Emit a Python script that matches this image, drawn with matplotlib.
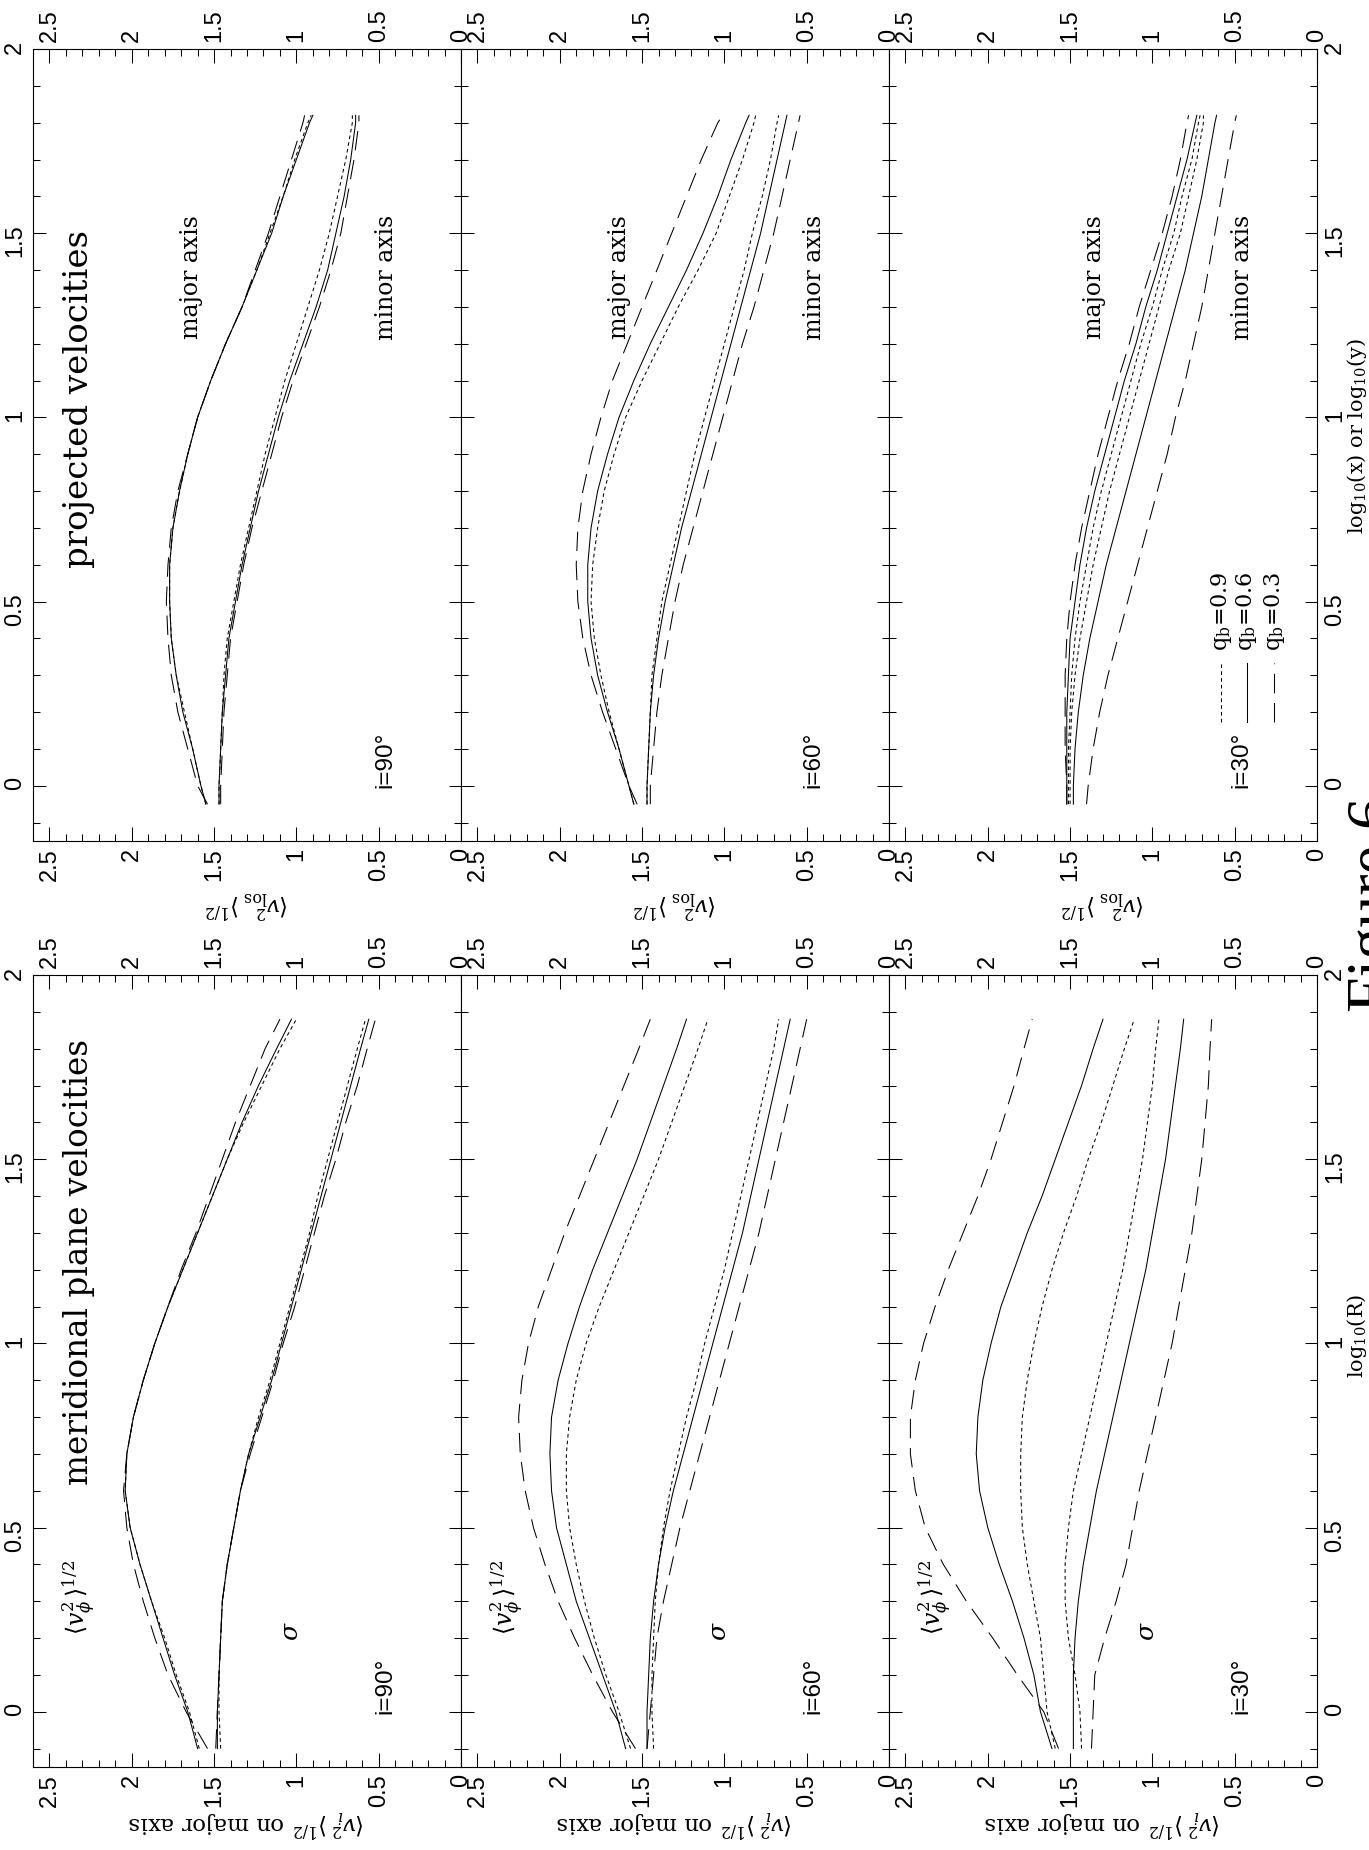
import matplotlib
matplotlib.use("Agg")
import matplotlib.pyplot as plt
from matplotlib.ticker import MultipleLocator, FuncFormatter

plt.rcParams['font.family'] = ['Liberation Sans', 'DejaVu Sans']
plt.rcParams['mathtext.fontset'] = 'dejavuserif'
plt.rcParams['lines.scale_dashes'] = False

# ---------------- data ----------------
logR_mer = [-0.1, 0.0, 0.1, 0.2, 0.3, 0.4, 0.5, 0.6, 0.7, 0.8, 0.9, 1.0,
            1.1, 1.2, 1.3, 1.4, 1.5, 1.6, 1.7, 1.8, 1.88]
logR_proj = [-0.05, 0.0, 0.1, 0.2, 0.3, 0.4, 0.5, 0.6, 0.7, 0.8, 0.9, 1.0,
             1.1, 1.2, 1.3, 1.4, 1.5, 1.6, 1.7, 1.8, 1.82]

# meridional plane, i=90
mer90_phi_q09 = [1.59,1.65,1.73,1.80,1.88,1.95,2.01,2.04,2.03,1.99,1.93,1.86,1.78,1.69,1.60,1.51,1.42,1.32,1.21,1.10,1.00]
mer90_phi_q06 = [1.60,1.66,1.74,1.81,1.88,1.95,2.01,2.04,2.03,1.99,1.93,1.86,1.78,1.69,1.60,1.51,1.42,1.33,1.23,1.12,1.03]
mer90_phi_q03 = [1.54,1.67,1.78,1.86,1.93,1.99,2.03,2.05,2.03,1.99,1.93,1.86,1.78,1.70,1.61,1.53,1.45,1.37,1.28,1.19,1.10]
mer90_sig_q09 = [1.46,1.47,1.47,1.46,1.45,1.42,1.38,1.34,1.29,1.23,1.16,1.10,1.04,0.98,0.92,0.87,0.81,0.75,0.69,0.63,0.58]
mer90_sig_q06 = [1.48,1.48,1.47,1.46,1.45,1.42,1.38,1.34,1.29,1.22,1.15,1.09,1.03,0.97,0.91,0.85,0.79,0.73,0.67,0.61,0.56]
mer90_sig_q03 = [1.49,1.48,1.47,1.46,1.45,1.42,1.38,1.34,1.28,1.21,1.14,1.08,1.01,0.95,0.89,0.83,0.76,0.70,0.63,0.57,0.52]

# meridional plane, i=60
mer60_phi_q09 = [1.57,1.64,1.72,1.79,1.85,1.90,1.94,1.96,1.96,1.94,1.90,1.84,1.76,1.67,1.58,1.49,1.40,1.32,1.24,1.16,1.10]
mer60_phi_q06 = [1.60,1.66,1.74,1.82,1.90,1.96,2.02,2.05,2.06,2.05,2.01,1.95,1.88,1.80,1.71,1.62,1.53,1.45,1.37,1.29,1.23]
mer60_phi_q03 = [1.54,1.68,1.80,1.91,2.01,2.09,2.16,2.21,2.24,2.25,2.23,2.19,2.13,2.05,1.97,1.88,1.79,1.70,1.61,1.52,1.45]
mer60_sig_q09 = [1.43,1.44,1.44,1.43,1.42,1.40,1.37,1.33,1.28,1.23,1.17,1.12,1.06,1.00,0.95,0.90,0.85,0.80,0.75,0.70,0.67]
mer60_sig_q06 = [1.47,1.47,1.46,1.45,1.43,1.40,1.36,1.31,1.25,1.19,1.13,1.07,1.01,0.95,0.89,0.84,0.79,0.74,0.69,0.64,0.60]
mer60_sig_q03 = [1.47,1.45,1.43,1.41,1.37,1.32,1.27,1.21,1.15,1.09,1.03,0.97,0.91,0.85,0.79,0.74,0.69,0.64,0.59,0.54,0.50]

# meridional plane, i=30
mer30_phi_q09 = [1.59,1.64,1.66,1.68,1.72,1.76,1.79,1.80,1.80,1.79,1.76,1.72,1.67,1.61,1.54,1.46,1.39,1.31,1.24,1.17,1.11]
mer30_phi_q06 = [1.61,1.68,1.72,1.78,1.85,1.93,2.00,2.05,2.07,2.06,2.03,1.98,1.92,1.84,1.76,1.67,1.59,1.51,1.43,1.36,1.30]
mer30_phi_q03 = [1.57,1.66,1.82,1.97,2.13,2.27,2.38,2.44,2.47,2.47,2.44,2.39,2.32,2.24,2.15,2.06,1.98,1.91,1.84,1.78,1.73]
mer30_sig_q09 = [1.43,1.44,1.47,1.51,1.53,1.53,1.51,1.48,1.43,1.38,1.33,1.28,1.23,1.18,1.14,1.10,1.06,1.03,1.00,0.98,0.96]
mer30_sig_q06 = [1.48,1.48,1.48,1.47,1.45,1.42,1.38,1.34,1.29,1.24,1.19,1.14,1.09,1.04,1.00,0.96,0.92,0.89,0.86,0.83,0.81]
mer30_sig_q03 = [1.37,1.36,1.35,1.29,1.22,1.16,1.12,1.08,1.03,0.98,0.93,0.88,0.84,0.80,0.76,0.73,0.70,0.68,0.66,0.65,0.64]

# projected, i=90
proj90_maj_q09 = [1.55,1.58,1.63,1.68,1.73,1.76,1.77,1.77,1.75,1.71,1.66,1.60,1.52,1.43,1.33,1.24,1.16,1.08,1.01,0.93,0.91]
proj90_maj_q06 = [1.55,1.58,1.63,1.69,1.73,1.76,1.77,1.77,1.75,1.71,1.66,1.60,1.52,1.43,1.33,1.24,1.15,1.08,1.00,0.92,0.90]
proj90_maj_q03 = [1.54,1.60,1.66,1.72,1.76,1.78,1.79,1.78,1.76,1.72,1.66,1.60,1.52,1.43,1.33,1.25,1.17,1.10,1.03,0.96,0.95]
proj90_min_q09 = [1.47,1.47,1.46,1.45,1.44,1.42,1.38,1.34,1.29,1.24,1.19,1.13,1.07,1.00,0.93,0.86,0.80,0.75,0.70,0.66,0.66]
proj90_min_q06 = [1.47,1.47,1.46,1.45,1.43,1.41,1.37,1.33,1.28,1.23,1.17,1.11,1.04,0.96,0.88,0.81,0.76,0.71,0.67,0.64,0.64]
proj90_min_q03 = [1.46,1.46,1.45,1.44,1.42,1.40,1.36,1.32,1.27,1.21,1.15,1.09,1.02,0.94,0.86,0.79,0.73,0.69,0.65,0.62,0.62]

# projected, i=60
proj60_maj_q09 = [1.55,1.58,1.64,1.70,1.75,1.79,1.81,1.80,1.77,1.73,1.67,1.60,1.50,1.39,1.28,1.16,1.05,0.97,0.89,0.82,0.81]
proj60_maj_q06 = [1.55,1.58,1.64,1.71,1.77,1.81,1.83,1.83,1.81,1.77,1.71,1.64,1.55,1.45,1.34,1.23,1.13,1.04,0.96,0.87,0.85]
proj60_maj_q03 = [1.53,1.58,1.66,1.74,1.81,1.86,1.89,1.90,1.89,1.86,1.81,1.75,1.68,1.59,1.50,1.41,1.32,1.23,1.14,1.04,1.01]
proj60_min_q09 = [1.47,1.47,1.46,1.45,1.44,1.41,1.38,1.33,1.28,1.23,1.18,1.12,1.06,1.00,0.94,0.88,0.83,0.77,0.72,0.68,0.67]
proj60_min_q06 = [1.47,1.47,1.46,1.45,1.43,1.40,1.36,1.31,1.26,1.20,1.14,1.08,1.02,0.96,0.90,0.84,0.78,0.73,0.68,0.63,0.62]
proj60_min_q03 = [1.45,1.45,1.43,1.41,1.38,1.34,1.30,1.25,1.19,1.13,1.07,1.01,0.95,0.89,0.82,0.76,0.70,0.65,0.60,0.55,0.54]

# projected, i=30
proj30_maj_q09 = [1.51,1.51,1.51,1.50,1.49,1.47,1.44,1.40,1.36,1.31,1.25,1.19,1.13,1.07,1.00,0.94,0.87,0.82,0.76,0.72,0.71]
proj30_maj_q06 = [1.52,1.52,1.52,1.52,1.51,1.50,1.47,1.44,1.40,1.35,1.29,1.23,1.17,1.10,1.04,0.97,0.91,0.85,0.79,0.74,0.73]
proj30_maj_q03 = [1.52,1.52,1.53,1.53,1.53,1.52,1.50,1.47,1.43,1.38,1.33,1.27,1.21,1.14,1.08,1.01,0.94,0.88,0.83,0.79,0.78]
proj30_min_q09 = [1.50,1.50,1.50,1.49,1.47,1.44,1.40,1.36,1.31,1.26,1.20,1.14,1.08,1.02,0.96,0.90,0.83,0.78,0.73,0.69,0.69]
proj30_min_q06 = [1.48,1.48,1.47,1.45,1.42,1.38,1.33,1.28,1.22,1.16,1.10,1.04,0.98,0.92,0.86,0.80,0.75,0.70,0.66,0.62,0.61]
proj30_min_q03 = [1.40,1.39,1.36,1.32,1.27,1.21,1.15,1.09,1.03,0.97,0.91,0.86,0.80,0.75,0.70,0.66,0.62,0.58,0.54,0.50,0.49]

incl_labels = ['i=90°', 'i=60°', 'i=30°']
qb_labels = ['q$_{\\rm b}$=0.9', 'q$_{\\rm b}$=0.6', 'q$_{\\rm b}$=0.3']

mer_panels = [
    [mer90_phi_q09, mer90_phi_q06, mer90_phi_q03, mer90_sig_q09, mer90_sig_q06, mer90_sig_q03],
    [mer60_phi_q09, mer60_phi_q06, mer60_phi_q03, mer60_sig_q09, mer60_sig_q06, mer60_sig_q03],
    [mer30_phi_q09, mer30_phi_q06, mer30_phi_q03, mer30_sig_q09, mer30_sig_q06, mer30_sig_q03],
]
proj_panels = [
    [proj90_maj_q09, proj90_maj_q06, proj90_maj_q03, proj90_min_q09, proj90_min_q06, proj90_min_q03],
    [proj60_maj_q09, proj60_maj_q06, proj60_maj_q03, proj60_min_q09, proj60_min_q06, proj60_min_q03],
    [proj30_maj_q09, proj30_maj_q06, proj30_maj_q03, proj30_min_q09, proj30_min_q06, proj30_min_q03],
]

# ---------------- styling ----------------
STYLES = [(0, (2.6, 2.3)), '-', (0, (14, 7))]   # q=0.9 dotted, 0.6 solid, 0.3 dashed
LW = 0.75
SERIF = 'DejaVu Serif'

W, H = 1369, 1850
fig = plt.figure(figsize=(W / 100, H / 100), dpi=100)

COL_X = [33, 461, 889]
ROW_Y = [49, 975]
PW, PH = 428, 792
fmt = FuncFormatter(lambda v, p: f'{v:g}')


def make_ax(ci, ri):
    x0, y0 = COL_X[ci], ROW_Y[ri]
    ax = fig.add_axes([x0 / W, 1 - (y0 + PH) / H, PW / W, PH / H])
    ax.set_xlim(2.6, 0)
    ax.set_ylim(-0.15, 2.0)
    for a in (ax.xaxis, ax.yaxis):
        a.set_major_locator(MultipleLocator(0.5))
        a.set_minor_locator(MultipleLocator(0.1))
        a.set_major_formatter(fmt)
    for s in ax.spines.values():
        s.set_linewidth(0.8)
    ax.tick_params(which='both', direction='in', top=True, bottom=True,
                   left=True, right=True, width=0.75)
    ax.tick_params(axis='x', which='major', length=10)
    ax.tick_params(axis='x', which='minor', length=5)
    ax.tick_params(axis='y', which='major', length=9)
    ax.tick_params(axis='y', which='minor', length=5)
    ax.tick_params(axis='x', which='major', labeltop=True, labelbottom=True,
                   labelrotation=90, labelsize=17, pad=5)
    ax.tick_params(axis='y', which='major', labelleft=(ci == 0), labelright=(ci == 2),
                   labelrotation=90, labelsize=17, pad=5)
    return ax


for ci in range(3):
    # projected velocities (top half)
    ax = make_ax(ci, 0)
    curves = proj_panels[ci]
    for k in range(6):
        ax.plot(curves[k], logR_proj, color='k', lw=LW, ls=STYLES[k % 3])
    ax.text(0.46, 0.07, incl_labels[ci], rotation=90, ha='center', va='center', fontsize=17.5)
    maj_v = 1.35 if ci == 2 else 1.64
    ax.text(maj_v, 1.38, 'major axis', rotation=90, ha='center', va='center',
            fontsize=17, family=SERIF)
    ax.text(0.45, 1.38, 'minor axis', rotation=90, ha='center', va='center',
            fontsize=17, family=SERIF)
    if ci == 0:
        ax.text(2.32, 1.05, 'projected velocities', rotation=90, ha='center', va='center',
                fontsize=24.5, family=SERIF)
    if ci == 2:
        xs = [0.776, 0.836, 0.900]
        for k in range(3):
            ax.plot([xs[k], xs[k]], [0.150, 0.225], transform=ax.transAxes,
                    color='k', lw=LW, ls=STYLES[k])
            ax.text(xs[k], 0.240, qb_labels[k], transform=ax.transAxes, rotation=90,
                    ha='center', va='bottom', fontsize=16, family=SERIF)
    fig.text((COL_X[ci] + PW / 2) / W, 1 - 904 / H, r'$\langle v_{\rm los}^2\,\rangle^{1/2}$',
             rotation=180, ha='center', va='center', fontsize=16.5)

    # meridional plane velocities (bottom half)
    ax = make_ax(ci, 1)
    curves = mer_panels[ci]
    for k in range(6):
        ax.plot(curves[k], logR_mer, color='k', lw=LW, ls=STYLES[k % 3])
    ax.text(0.46, 0.07, incl_labels[ci], rotation=90, ha='center', va='center', fontsize=17.5)
    ax.text(1.03, 0.22, r'$\sigma$', rotation=90, ha='center', va='center', fontsize=18)
    ax.text(2.32, 0.31, r'$\langle v_\phi^2\,\rangle^{1/2}$', rotation=90, ha='center',
            va='center', fontsize=17)
    if ci == 0:
        ax.text(2.32, 1.22, 'meridional plane velocities', rotation=90, ha='center',
                va='center', fontsize=23.5, family=SERIF)
    fig.text((COL_X[ci] + PW / 2) / W, 1 - 1823 / H,
             r'$\langle v_i^2\,\rangle^{1/2}$ on major axis',
             rotation=180, ha='center', va='center', fontsize=16.5, family=SERIF)

fig.text(1357 / W, 1 - 1336 / H, r'log$_{10}$(R)', rotation=90, ha='center', va='center',
         fontsize=15, family=SERIF)
fig.text(1357 / W, 1 - 436 / H, r'log$_{10}$(x) or log$_{10}$(y)', rotation=90, ha='center',
         va='center', fontsize=15, family=SERIF)
fig.text(1347 / W, 1 - 905 / H, 'Figure 6', rotation=90, ha='left', va='center',
         fontsize=46, family='Liberation Serif')

fig.savefig('out.png', dpi=100)
